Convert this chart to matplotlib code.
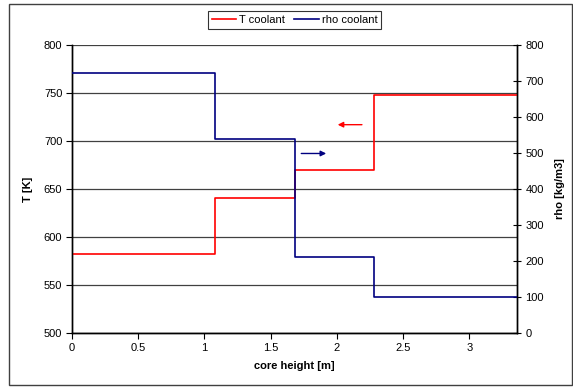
import matplotlib
matplotlib.use("Agg")
from matplotlib import pyplot as plt
from matplotlib.patches import Rectangle

plt.rcParams['font.family'] = ['Liberation Sans', 'DejaVu Sans']
plt.rcParams['font.size'] = 8

# step edges along the core height [m]
height_edges = [0, 1.077, 1.68, 2.28, 3.36]
# coolant temperature per segment [K]
t_coolant = [582, 641, 670, 748]
# coolant density per segment [kg/m3]
rho_coolant = [723, 539, 211, 100]

t_ticks = [500, 550, 600, 650, 700, 750, 800]
rho_ticks = [0, 100, 200, 300, 400, 500, 600, 700, 800]
x_ticks = [0, 0.5, 1, 1.5, 2, 2.5, 3]

fig = plt.figure(figsize=(5.73, 3.89), dpi=100)
ax = fig.add_axes([0.1257, 0.144, 0.7766, 0.7403])
ax2 = ax.twinx()

# outer chart frame
fig.patches.append(Rectangle((9 / 573, 1 - 385 / 389), 563 / 573, 381 / 389,
                             transform=fig.transFigure, fill=False,
                             edgecolor='#404040', linewidth=1.0))

# step lines, last value repeated so the final segment reaches the end
ln1, = ax.step(height_edges, t_coolant + [t_coolant[-1]], where='post',
               color='#FF0000', linewidth=1.2, label='T coolant', zorder=3)
ln2, = ax2.step(height_edges, rho_coolant + [rho_coolant[-1]], where='post',
                color='#000080', linewidth=1.2, label='rho coolant', zorder=3)

ax.set_xlim(0, 3.36)
ax.set_ylim(500, 800)
ax2.set_ylim(0, 800)
ax.set_xticks(x_ticks)
ax.set_xticklabels(['0', '0.5', '1', '1.5', '2', '2.5', '3'])
ax.set_yticks(t_ticks)
ax2.set_yticks(rho_ticks)

ax.yaxis.grid(True, color='#404040', linewidth=0.9)
ax.set_axisbelow(True)

for a in (ax, ax2):
    a.spines['top'].set_visible(False)
    a.spines['left'].set_linewidth(1.0)
    a.spines['right'].set_linewidth(1.0)
    a.spines['bottom'].set_linewidth(1.0)
ax.tick_params(axis='both', direction='out', length=4, width=0.8, pad=3)
ax2.tick_params(axis='y', direction='inout', length=6, width=0.8, pad=3)

ax.set_xlabel('core height [m]', fontweight='bold', labelpad=6)
ax.set_ylabel('T [K]', fontweight='bold', labelpad=8)
ax2.set_ylabel('rho [kg/m3]', fontweight='bold', labelpad=8)

# arrows pointing to the axis each curve belongs to
ax.annotate('', xy=(1.985, 717), xytext=(2.21, 717),
            arrowprops=dict(arrowstyle='-|>', color='#FF0000', lw=1.0,
                            mutation_scale=8))
ax.annotate('', xy=(1.94, 687), xytext=(1.71, 687),
            arrowprops=dict(arrowstyle='-|>', color='#000080', lw=1.0,
                            mutation_scale=8))

leg = fig.legend(handles=[ln1, ln2], loc='upper center', ncol=2,
                 bbox_to_anchor=(0.514, 0.985), frameon=True, fancybox=False,
                 edgecolor='black', handlelength=2.2, handletextpad=0.3,
                 columnspacing=0.8, borderpad=0.35, fontsize=8)
leg.get_frame().set_linewidth(0.8)

fig.savefig('out.png', dpi=100)
